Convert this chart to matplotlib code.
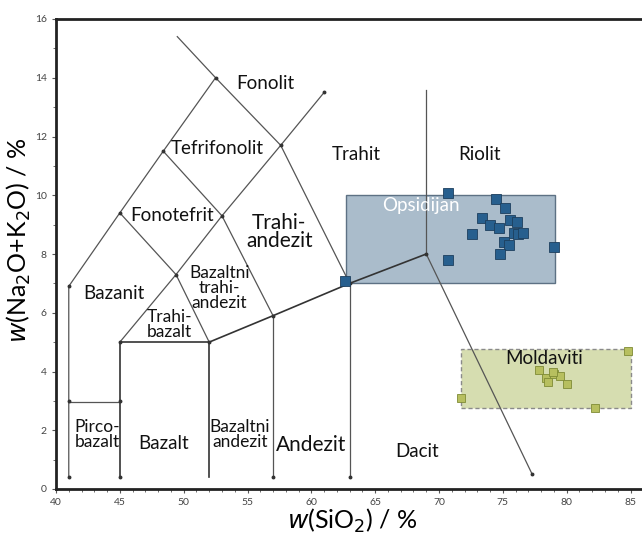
import matplotlib
matplotlib.use("Agg")
import matplotlib.pyplot as plt
from matplotlib.patches import Rectangle
from matplotlib.ticker import MultipleLocator

# --- TAS boundary lines (SiO2, Na2O+K2O) ---
boundaries = [
    ([41, 41, 45, 48.4, 52.5], [0.4, 6.9, 9.4, 11.5, 14.0]),
    ([49.5, 52.5, 57.6, 63], [15.4, 14.0, 11.7, 7.0]),
    ([41, 45], [2.95, 2.95]),
    ([45, 45, 52, 52], [0.4, 5.0, 5.0, 0.4]),
    ([45, 49.4, 53, 57.6, 61], [5.0, 7.3, 9.3, 11.7, 13.5]),
    ([45, 49.4, 52], [9.4, 7.3, 5.0]),
    ([48.4, 53, 57], [11.5, 9.3, 5.9]),
    ([52, 57, 63, 69], [5.0, 5.9, 7.0, 8.0]),
    ([57, 57], [0.4, 5.9]),
    ([63, 63], [0.4, 7.0]),
    ([69, 69], [8.0, 13.6]),
    ([69, 77.3], [8.0, 0.5]),
]
vert_x = [41, 41, 45, 45, 45, 52, 57, 57, 63, 63, 69, 77.3, 41, 45, 48.4, 52.5, 57.6, 61, 49.4, 53]
vert_y = [0.4, 3, 3, 0.4, 5, 5, 0.4, 5.9, 0.4, 7, 8, 0.5, 6.9, 9.4, 11.5, 14, 11.7, 13.5, 7.3, 9.3]

# --- field labels ---
labels = ["Fonolit", "Tefrifonolit", "Trahit", "Riolit", "Fonotefrit", "Trahi-\nandezit",
          "Bazanit", "Bazaltni\ntrahi-\nandezit", "Trahi-\nbazalt", "Pirco-\nbazalt", "Bazalt",
          "Bazaltni\nandezit", "Andezit", "Dacit"]
label_x = [56.4, 52.6, 63.5, 73.2, 49.1, 57.5, 44.5, 52.8, 48.9, 43.25, 48.4, 54.4, 60.0, 68.3]
label_y = [13.8, 11.6, 11.4, 11.4, 9.32, 8.75, 6.66, 6.84, 5.6, 1.84, 1.56, 1.84, 1.5, 1.26]
label_size = [13.5, 13.5, 13.5, 13.5, 13.5, 15, 13.5, 12.5, 12.5, 12.5, 13.5, 12.5, 15, 13.5]

# --- Obsidian (Opsidijan) samples ---
obs_sio2 = [70.7, 74.45, 75.2, 73.36, 74.0, 74.7, 75.55, 76.1, 72.6, 75.9, 76.2, 76.6,
            75.1, 75.5, 74.8, 70.7, 79.0, 62.6]
obs_alk = [10.07, 9.86, 9.56, 9.22, 8.98, 8.88, 9.15, 9.08, 8.67, 8.71, 8.67, 8.71,
           8.4, 8.3, 7.99, 7.79, 8.23, 7.07]
obs_box = (62.7, 79.1, 7.0, 10.0)

# --- Moldavite samples ---
mol_sio2 = [84.8, 71.7, 82.2, 77.8, 78.4, 78.5, 79.0, 79.5, 80.0, 78.9]
mol_alk = [4.70, 3.10, 2.77, 4.05, 3.79, 3.63, 3.93, 3.84, 3.56, 3.98]
mol_box = (71.7, 85.0, 2.77, 4.76)

fig = plt.figure(figsize=(6.42, 5.39), dpi=100)
W, H = 642, 539
ax = fig.add_axes([56 / W, (H - 489) / H, (W - 56) / W, (489 - 19) / H])
ax.set_xlim(40, 85.9)
ax.set_ylim(0, 16)

font = "Lato"

# boxes
ax.add_patch(Rectangle((obs_box[0], obs_box[2]), obs_box[1] - obs_box[0], obs_box[3] - obs_box[2],
                       facecolor="#aabccb", edgecolor="#5d7184", lw=1.0, zorder=1))
ax.add_patch(Rectangle((mol_box[0], mol_box[2]), mol_box[1] - mol_box[0], mol_box[3] - mol_box[2],
                       facecolor="#d6ddb0", edgecolor="#8a8a8a", lw=1.0, ls=(0, (3, 2)), zorder=1))

for i, (xs, ys) in enumerate(boundaries):
    dark = i in (3, 7)
    ax.plot(xs, ys, color="#333333" if dark else "#555555", lw=1.2 if dark else 0.9, zorder=2)
ax.plot(vert_x, vert_y, ls="none", marker="o", ms=1.8, color="#333333", zorder=3)

for t, x, y, s in zip(labels, label_x, label_y, label_size):
    ax.text(x, y, t, ha="center", va="center", fontsize=s, family=font,
            color="#111111", linespacing=0.92, zorder=4)

ax.text(68.6, 9.66, "Opsidijan", ha="center", va="center", fontsize=13.5, family=font,
        color="white", zorder=4)
ax.text(78.2, 4.45, "Moldaviti", ha="center", va="center", fontsize=13.5, family=font,
        color="#111111", zorder=4)

ax.plot(obs_sio2, obs_alk, ls="none", marker="s", ms=6.5, mfc="#275f8e",
        mec="#1d3f5e", mew=0.6, zorder=5)
ax.plot(mol_sio2, mol_alk, ls="none", marker="s", ms=6.0, mfc="#b7bf5f",
        mec="#7f8b35", mew=0.6, zorder=5)

# axes styling
ax.spines["right"].set_visible(False)
for side in ["left", "top", "bottom"]:
    ax.spines[side].set_linewidth(2.0)
    ax.spines[side].set_color("#222222")
ax.xaxis.set_major_locator(MultipleLocator(5))
ax.xaxis.set_minor_locator(MultipleLocator(1))
ax.yaxis.set_major_locator(MultipleLocator(2))
ax.yaxis.set_minor_locator(MultipleLocator(1))
ax.tick_params(which="both", direction="out", colors="#555555", labelsize=7.5,
               labelcolor="#444444")
ax.tick_params(which="major", length=3)
ax.tick_params(which="minor", length=2)
for lab in ax.get_xticklabels() + ax.get_yticklabels():
    lab.set_family(font)

ax.set_xlabel(r"$w$(SiO$_2$) / %", fontsize=18, family=font)
ax.set_ylabel(r"$w$(Na$_2$O+K$_2$O) / %", fontsize=18, family=font)
ax.xaxis.set_label_coords((352 - 56) / 586, (489 - 521) / 470)
ax.yaxis.set_label_coords((19 - 56) / 586, (489 - 240) / 470)
ax.xaxis.label.set_va("center")
ax.yaxis.label.set_va("center")

fig.savefig("out.png", dpi=100)
